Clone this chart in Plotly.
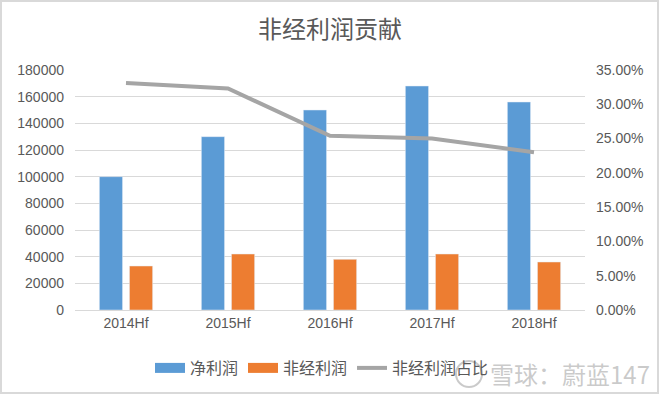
import plotly.graph_objects as go

categories = ["2014Hf", "2015Hf", "2016Hf", "2017Hf", "2018Hf"]
net_profit = [100000, 130000, 150000, 168000, 156000]
non_recurring = [33000, 42000, 38000, 42000, 36000]
ratio = [0.331, 0.323, 0.254, 0.250, 0.230]

left_ticks = [0, 20000, 40000, 60000, 80000, 100000, 120000, 140000, 160000, 180000]
right_ticks = [0, 0.05, 0.10, 0.15, 0.20, 0.25, 0.30, 0.35]
right_labels = ["0.00%", "5.00%", "10.00%", "15.00%", "20.00%", "25.00%", "30.00%", "35.00%"]

FONT = "Liberation Sans, Noto Sans CJK SC, sans-serif"
CJK = "Noto Sans CJK SC, sans-serif"
TXT = "#595959"
BLUE, ORANGE, GRAY = "#5B9BD5", "#ED7D31", "#A5A5A5"

fig = go.Figure()
fig.add_trace(go.Bar(x=categories, y=net_profit, name="净利润", marker_color=BLUE,
                     showlegend=False))
fig.add_trace(go.Bar(x=categories, y=non_recurring, name="非经利润", marker_color=ORANGE,
                     showlegend=False))
fig.add_trace(go.Scatter(x=categories, y=ratio, name="非经利润占比", mode="lines",
                         line=dict(color=GRAY, width=4), yaxis="y2", showlegend=False))
# legend entries (wide swatches like the original)
fig.add_trace(go.Scatter(x=[None], y=[None], name="净利润", mode="lines",
                         line=dict(color=BLUE, width=10)))
fig.add_trace(go.Scatter(x=[None], y=[None], name="非经利润", mode="lines",
                         line=dict(color=ORANGE, width=10)))
fig.add_trace(go.Scatter(x=[None], y=[None], name="非经利润占比", mode="lines",
                         line=dict(color=GRAY, width=4)))

fig.update_layout(
    width=660, height=397,
    margin=dict(l=75, r=75, t=70, b=87),
    paper_bgcolor="white", plot_bgcolor="white",
    barmode="group", bargap=0.41, bargroupgap=0.23,
    title=dict(text="非经利润贡献", x=0.5, xref="paper", xanchor="center",
               y=1 - 30 / 397, yanchor="middle",
               font=dict(family=CJK, size=24, color=TXT)),
    xaxis=dict(showgrid=False, showline=True, linecolor="#D9D9D9", linewidth=1,
               ticks="", tickfont=dict(family=FONT, size=14, color=TXT)),
    yaxis=dict(range=[0, 180000], tickvals=left_ticks, showgrid=True,
               gridcolor="#D9D9D9", gridwidth=1, zeroline=False, ticks="",
               tickformat="d", tickfont=dict(family=FONT, size=14, color=TXT),
               ticklabelstandoff=10),
    yaxis2=dict(range=[0, 0.35], tickvals=right_ticks, ticktext=right_labels,
                overlaying="y", side="right", showgrid=False, zeroline=False,
                ticks="", tickfont=dict(family=FONT, size=14, color=TXT),
                ticklabelstandoff=10),
    legend=dict(orientation="h", x=(150 - 75) / 510, xanchor="left",
                y=-58 / 240, yanchor="middle", bgcolor="rgba(0,0,0,0)",
                font=dict(family=CJK, size=16, color=TXT), itemwidth=30,
                traceorder="normal"),
    showlegend=True,
    shapes=[
        dict(type="rect", xref="paper", yref="paper",
             x0=-74 / 510, x1=1 + 73 / 510, y0=-83 / 240, y1=1 + 69 / 240,
             line=dict(color="#D9D9D9", width=2), fillcolor="rgba(0,0,0,0)"),
        dict(type="circle", xref="paper", yref="paper",
             x0=(456 - 75) / 510, x1=(482 - 75) / 510, y0=-77 / 240, y1=-51 / 240,
             line=dict(color="rgba(150,150,150,0.5)", width=2),
             fillcolor="rgba(0,0,0,0)"),
    ],
    annotations=[dict(text="雪球：蔚蓝147", xref="paper", yref="paper",
                      x=(652 - 75) / 510, y=-63 / 240, xanchor="right", yanchor="middle",
                      showarrow=False,
                      font=dict(family=CJK, size=24, color="rgba(150,150,150,0.5)"))],
)

fig.write_html("out.html", config={"displayModeBar": False},
               post_script="document.body.style.margin='0';")
